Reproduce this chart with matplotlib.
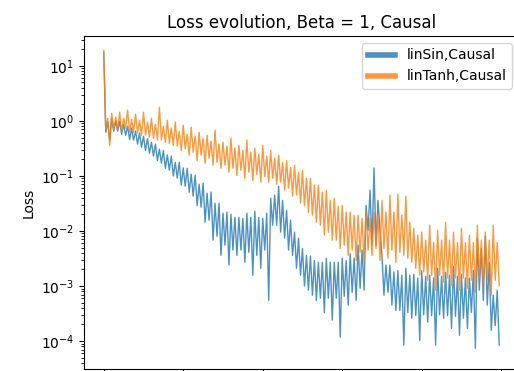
import numpy as np
import matplotlib
matplotlib.use("Agg")
import matplotlib.pyplot as plt

# Values, 50 steps along the run (every 200 iterations).
# Per step: outer spike up, band bottom, band top, outer spike down.
sin_spike_up = [17.7, 1.12, 0.99, 0.80, 0.65, 0.527, 0.41, 0.306, 0.24, 0.177,
                0.14, 0.107, 0.0707, 0.0485, 0.0319, 0.021, 0.0201, 0.0177, 0.021, 0.0228,
                0.017, 0.0393, 0.065, 0.0238, 0.0095, 0.0048, 0.0035, 0.0027, 0.0032, 0.0027,
                0.0032, 0.0039, 0.0055, 0.029, 0.14, 0.0036, 0.0024, 0.0019, 0.0021, 0.00163,
                0.0019, 0.00157, 0.0021, 0.00177, 0.00228, 0.00163, 0.00138, 0.0074, 0.008, 0.00068]
sin_band_lo = [0.62, 0.65, 0.57, 0.46, 0.38, 0.29, 0.23, 0.17, 0.127, 0.091,
               0.065, 0.043, 0.027, 0.0157, 0.008, 0.0055, 0.0045, 0.0045, 0.0041, 0.0036,
               0.0045, 0.0127, 0.0095, 0.0045, 0.0021, 0.001, 0.00068, 0.0006, 0.0006, 0.0006,
               0.00065, 0.00077, 0.00091, 0.0103, 0.0055, 0.00068, 0.00045, 0.00036, 0.00033, 0.00029,
               0.0003, 0.00029, 0.0003, 0.00029, 0.00028, 0.00026, 0.00033, 0.00084, 0.00045, 0.00019]
sin_band_hi = [0.96, 0.99, 0.87, 0.74, 0.60, 0.48, 0.38, 0.29, 0.23, 0.177,
               0.138, 0.103, 0.074, 0.051, 0.032, 0.022, 0.0177, 0.017, 0.0177, 0.0177,
               0.021, 0.045, 0.036, 0.0157, 0.0074, 0.0036, 0.0029, 0.0027, 0.0027, 0.0027,
               0.0029, 0.0032, 0.0045, 0.055, 0.036, 0.0024, 0.0018, 0.00157, 0.00157, 0.0014,
               0.0015, 0.0014, 0.0015, 0.00157, 0.0015, 0.0014, 0.0019, 0.0048, 0.0027, 0.00084]
sin_spike_dn = [0.446, 0.65, 0.55, 0.45, 0.333, 0.259, 0.19, 0.138, 0.10, 0.068,
                0.0506, 0.029, 0.0144, 0.0068, 0.0036, 0.0024, 0.0036, 0.0027, 0.00157, 0.0021,
                0.00055, 0.0127, 0.0074, 0.0036, 0.00157, 0.00084, 0.00055, 0.00033, 0.00024, 0.000117,
                0.00045, 0.00055, 0.00084, 0.0055, 0.0103, 0.00077, 0.00036, 0.000084, 0.00026, 0.000103,
                0.00022, 0.000084, 0.00026, 0.00017, 0.000127, 0.00017, 0.000074, 0.00055, 0.000157, 0.000084]

tanh_spike_up = [19.0, 1.38, 1.44, 1.57, 1.32, 1.44, 1.12, 1.77, 1.03, 0.95,
                 0.835, 0.77, 0.62, 0.55, 0.68, 0.41, 0.484, 0.36, 0.45, 0.32,
                 0.36, 0.29, 0.24, 0.19, 0.157, 0.127, 0.091, 0.068, 0.055, 0.039,
                 0.029, 0.022, 0.0193, 0.0238, 0.022, 0.036, 0.0446, 0.0465, 0.043, 0.0112,
                 0.0095, 0.0127, 0.0103, 0.0144, 0.0095, 0.0112, 0.0084, 0.0127, 0.0095, 0.0127]
tanh_band_lo = [0.68, 0.68, 0.65, 0.62, 0.60, 0.55, 0.48, 0.45, 0.39, 0.35,
                0.31, 0.27, 0.24, 0.21, 0.177, 0.157, 0.138, 0.127, 0.117, 0.107,
                0.098, 0.091, 0.077, 0.06, 0.045, 0.029, 0.0193, 0.0127, 0.0095, 0.0068,
                0.0055, 0.0045, 0.0041, 0.0045, 0.0048, 0.0048, 0.0045, 0.0041, 0.0032, 0.0021,
                0.0018, 0.00157, 0.00157, 0.0014, 0.0014, 0.0014, 0.00127, 0.0014, 0.00127, 0.00127]
tanh_band_hi = [1.12, 1.17, 1.12, 1.07, 1.03, 0.95, 0.87, 0.80, 0.74, 0.65,
                0.57, 0.53, 0.48, 0.43, 0.38, 0.35, 0.32, 0.29, 0.27, 0.25,
                0.23, 0.21, 0.177, 0.143, 0.117, 0.091, 0.068, 0.051, 0.036, 0.028,
                0.022, 0.0193, 0.017, 0.017, 0.02, 0.022, 0.022, 0.0193, 0.0144, 0.0084,
                0.0068, 0.0062, 0.0068, 0.0068, 0.0062, 0.0062, 0.0062, 0.0068, 0.0068, 0.0062]
tanh_spike_dn = [0.36, 0.68, 0.74, 0.62, 0.55, 0.505, 0.45, 0.41, 0.36, 0.29,
                 0.24, 0.19, 0.17, 0.157, 0.138, 0.117, 0.103, 0.091, 0.0835, 0.077,
                 0.077, 0.071, 0.055, 0.043, 0.032, 0.022, 0.0144, 0.0084, 0.0068, 0.0048,
                 0.0036, 0.0029, 0.0027, 0.0036, 0.0029, 0.0032, 0.0027, 0.0036, 0.0027, 0.00157,
                 0.00127, 0.00084, 0.00117, 0.00103, 0.00084, 0.00091, 0.00077, 0.00091, 0.00068, 0.00103]

labels = ["linSin,Causal", "linTanh,Causal"]
colors = ["tab:blue", "tab:orange"]
yticks = [1e-4, 1e-3, 1e-2, 1e-1, 1e0, 1e1]


def trace(up, lo, hi, dn):
    # interleave the four readings into one jagged trace
    vals = np.column_stack([up, lo, hi, dn]).ravel()
    its = np.arange(len(vals)) * 50
    return its, vals


fig = plt.figure(figsize=(5.14, 3.71), dpi=100)
ax = fig.add_axes([0.1634, 0.0054, 0.8463, 0.8976])

series = [
    (sin_spike_up, sin_band_lo, sin_band_hi, sin_spike_dn),
    (tanh_spike_up, tanh_band_lo, tanh_band_hi, tanh_spike_dn),
]
for s, lab, col in zip(series, labels, colors):
    x, y = trace(*s)
    ax.plot(x, y, color=col, alpha=0.8, linewidth=1.0, label=lab)

ax.set_yscale("log")
ax.set_yticks(yticks)
ax.set_ylim(3.1e-5, 35)
ax.set_ylabel("Loss")
ax.set_title("Loss evolution, Beta = 1, Causal")
ax.tick_params(axis="x", labelbottom=False)

leg = ax.legend(loc="upper right")
for line in leg.get_lines():
    line.set_linewidth(4)

fig.savefig("out.png", dpi=100)
